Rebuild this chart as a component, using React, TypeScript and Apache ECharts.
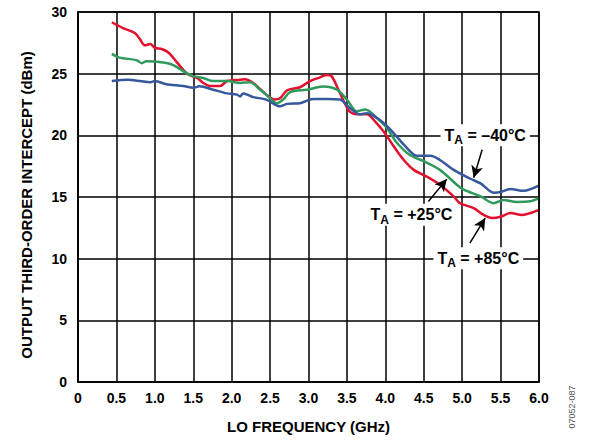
import React, { useEffect, useRef } from "react";
import * as echarts from "echarts";

const FONT = "'Liberation Sans', Arial, sans-serif";

const xTicks = [0, 0.5, 1.0, 1.5, 2.0, 2.5, 3.0, 3.5, 4.0, 4.5, 5.0, 5.5, 6.0];
const yTicks = [0, 5, 10, 15, 20, 25, 30];

const freqM40 = [0.44, 0.65, 0.81, 0.94, 1.0, 1.15, 1.37, 1.5, 1.58, 1.76, 1.94, 2.07, 2.11, 2.15, 2.28, 2.45, 2.63, 2.72, 2.89, 3.06, 3.24, 3.41, 3.54, 3.67, 3.76, 3.93, 4.07, 4.24, 4.41, 4.59, 4.71, 4.89, 5.1, 5.24, 5.41, 5.5, 5.63, 5.8, 5.99];
const oip3M40 = [24.4, 24.5, 24.4, 24.3, 24.4, 24.15, 24.0, 23.85, 23.97, 23.7, 23.4, 23.3, 23.15, 23.4, 23.1, 22.9, 22.35, 22.55, 22.6, 22.95, 22.95, 22.9, 22.2, 21.7, 21.8, 21.25, 20.45, 19.25, 18.35, 18.35, 18.0, 17.2, 16.5, 16.1, 15.35, 15.4, 15.65, 15.5, 15.9];

const freqP25 = [0.44, 0.54, 0.76, 0.83, 0.89, 1.11, 1.24, 1.37, 1.5, 1.63, 1.76, 1.94, 2.11, 2.24, 2.37, 2.45, 2.59, 2.67, 2.76, 2.98, 3.19, 3.37, 3.5, 3.63, 3.74, 3.89, 4.02, 4.15, 4.32, 4.5, 4.71, 4.93, 5.02, 5.24, 5.41, 5.54, 5.71, 5.89, 6.0];
const oip3P25 = [26.6, 26.3, 26.1, 25.85, 26.0, 25.9, 25.7, 25.2, 24.8, 24.65, 24.4, 24.4, 24.25, 24.3, 23.7, 23.3, 22.6, 22.9, 23.5, 23.7, 23.95, 23.7, 22.9, 21.95, 22.1, 21.4, 20.6, 19.4, 18.4, 17.9, 17.2, 16.0, 15.6, 15.05, 14.5, 14.75, 14.6, 14.65, 14.9];

const freqP85 = [0.44, 0.585, 0.74, 0.81, 0.87, 0.94, 1.0, 1.09, 1.18, 1.29, 1.42, 1.55, 1.63, 1.72, 1.85, 1.94, 2.11, 2.17, 2.28, 2.45, 2.56, 2.63, 2.72, 2.89, 3.02, 3.15, 3.24, 3.3, 3.39, 3.48, 3.54, 3.63, 3.76, 3.87, 3.98, 4.11, 4.24, 4.37, 4.54, 4.71, 4.89, 4.97, 5.15, 5.28, 5.39, 5.5, 5.63, 5.78, 5.89, 6.0];
const oip3P85 = [29.17, 28.7, 28.3, 27.76, 27.3, 27.4, 27.1, 27.0, 26.7, 25.9, 25.0, 24.65, 24.25, 24.0, 24.0, 24.4, 24.5, 24.55, 24.25, 23.3, 22.9, 23.0, 23.65, 23.9, 24.4, 24.7, 24.9, 24.8, 23.7, 22.5, 21.9, 21.7, 21.7, 21.1, 20.3, 19.1, 18.0, 17.2, 16.65, 16.0, 15.05, 14.5, 14.1, 13.55, 13.3, 13.4, 13.7, 13.55, 13.7, 13.95];

// annotation labels: [text after subscript, label x, label y, arrow from x,y, arrow to x,y]
const labelTexts = [" = \u201340\u00B0C", " = +25\u00B0C", " = +85\u00B0C"];
const labelAt = [[5.3, 20.0], [4.34, 13.56], [5.21, 10.04]];
const arrowFrom = [[5.26, 18.83], [4.56, 14.63], [5.1, 11.26]];
const arrowTo = [[5.15, 16.56], [4.8, 16.45], [5.3, 13.29]];

const zip = (a: number[], b: number[]) => a.map((x, i) => [x, b[i]]);

export default function App() {
  const ref = useRef<HTMLDivElement>(null);
  useEffect(() => {
    document.body.style.margin = "0";
    const chart = echarts.init(ref.current!, null, { renderer: "svg" });
    const lineSeries = (name: string, color: string, data: number[][]) => ({
      name,
      type: "line",
      data,
      smooth: 0.3,
      showSymbol: false,
      symbol: "none",
      lineStyle: { color, width: 2.5 },
      silent: true,
    });
    const arrows = arrowFrom.map((f, i) => [
      { coord: f, symbol: "none" },
      { coord: arrowTo[i], symbol: "arrow" },
    ]);
    chart.setOption({
      animation: false,
      grid: { left: 78, right: 51, top: 12, bottom: 58 },
      xAxis: {
        type: "value",
        min: 0,
        max: 6,
        interval: 0.5,
        name: "LO FREQUENCY (GHz)",
        nameLocation: "middle",
        nameGap: 37,
        nameTextStyle: { fontFamily: FONT, fontWeight: "bold", fontSize: 15, color: "#000" },
        axisLine: { show: true, lineStyle: { color: "#000", width: 1.5 } },
        axisTick: { show: false },
        splitLine: { show: true, lineStyle: { color: "#000", width: 1.5 } },
        axisLabel: {
          margin: 9,
          fontFamily: FONT,
          fontWeight: "bold",
          fontSize: 14,
          color: "#000",
          formatter: (v: number) => {
            const t = xTicks.find((x) => Math.abs(x - v) < 1e-6);
            return t === 0 ? "0" : (t ?? v).toFixed(1);
          },
        },
      },
      yAxis: {
        type: "value",
        min: 0,
        max: 30,
        interval: 5,
        name: "OUTPUT THIRD-ORDER INTERCEPT (dBm)",
        nameLocation: "middle",
        nameGap: 44,
        nameTextStyle: { fontFamily: FONT, fontWeight: "bold", fontSize: 15, color: "#000", padding: [0, 16, 0, 0] },
        axisLine: { show: true, lineStyle: { color: "#000", width: 1.5 } },
        axisTick: { show: false },
        splitLine: { show: true, lineStyle: { color: "#000", width: 1.5 } },
        axisLabel: {
          margin: 11,
          fontFamily: FONT,
          fontWeight: "bold",
          fontSize: 14,
          color: "#000",
          formatter: (v: number) => String(yTicks.find((y) => Math.abs(y - v) < 1e-6) ?? v),
        },
      },
      series: [
        lineSeries("+85", "#e2112e", zip(freqP85, oip3P85)),
        lineSeries("+25", "#2f9a5c", zip(freqP25, oip3P25)),
        {
          ...lineSeries("-40", "#36599e", zip(freqM40, oip3M40)),
          markLine: {
            silent: true,
            animation: false,
            symbolSize: [9, 12],
            label: { show: false },
            lineStyle: { color: "#000", width: 1.5, type: "solid" },
            emphasis: { disabled: true },
            data: arrows,
          },
        },
      ],
    });
    const tl = chart.convertToPixel({ gridIndex: 0 }, [0, 30]) as number[];
    const br = chart.convertToPixel({ gridIndex: 0 }, [6, 0]) as number[];
    const labels = labelTexts.map((t, i) => {
      const p = chart.convertToPixel({ gridIndex: 0 }, labelAt[i]) as number[];
      return {
        type: "text",
        x: p[0],
        y: p[1],
        z: 100,
        style: {
          text: `{t|T}{s|A}{t|${t}}`,
          align: "center",
          verticalAlign: "middle",
          backgroundColor: "#fff",
          padding: [0, 4, 0, 4],
          rich: {
            t: { fontFamily: FONT, fontWeight: "bold", fontSize: 16, fill: "#000" },
            s: { fontFamily: FONT, fontWeight: "bold", fontSize: 12, fill: "#000", padding: [10, 0, 0, 0] },
          },
        },
      };
    });
    chart.setOption({
      graphic: [
        {
          type: "rect",
          shape: { x: tl[0], y: tl[1], width: br[0] - tl[0], height: br[1] - tl[1] },
          style: { fill: "none", stroke: "#000", lineWidth: 1.5 },
          silent: true,
          z: 50,
        },
        ...labels,
        {
          type: "text",
          x: 572,
          y: 407,
          rotation: Math.PI / 2,
          style: {
            text: "07052-087",
            align: "center",
            verticalAlign: "middle",
            fontFamily: FONT,
            fontSize: 9,
            fill: "#555",
          },
        },
      ],
    });
    return () => chart.dispose();
  }, []);
  return <div ref={ref} style={{ width: 590, height: 440 }} />;
}
